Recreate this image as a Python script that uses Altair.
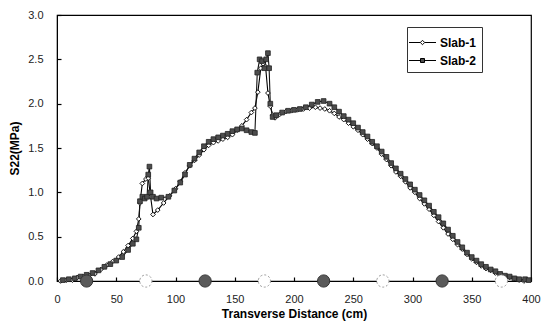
import altair as alt
import pandas as pd

# ---- data ----
slab1_x = [3, 8, 13, 17, 22, 27, 32, 37, 42, 47, 52, 56, 60, 64, 67, 69, 70, 72, 75, 77, 79, 81,
           85, 90, 95, 100, 104, 108, 112, 116, 120, 124, 128, 132, 136, 140, 144, 148, 152, 156,
           160, 164, 167, 169.5, 172, 174, 176, 178, 180, 182, 184, 188, 193, 198, 203, 208, 213,
           218, 222, 226, 230, 234, 238, 242, 246, 250, 254, 258, 262, 266, 270, 274, 278, 282,
           286, 290, 294, 298, 302, 306, 310, 314, 318, 322, 326, 330, 334, 338, 342, 346, 350,
           354, 358, 362, 366, 370, 374, 378, 382, 386, 390, 394]
slab1_y = [0.00, 0.01, 0.01, 0.04, 0.05, 0.06, 0.08, 0.13, 0.18, 0.22, 0.27, 0.33, 0.40, 0.48,
           0.56, 0.70, 0.88, 1.10, 1.15, 1.16, 0.95, 0.75, 0.80, 0.88, 0.96, 1.04, 1.12, 1.22,
           1.30, 1.36, 1.42, 1.48, 1.53, 1.56, 1.58, 1.60, 1.62, 1.65, 1.70, 1.75, 1.82, 1.90,
           1.95, 2.13, 2.40, 2.45, 2.42, 2.12, 1.97, 1.87, 1.84, 1.88, 1.91, 1.92, 1.93, 1.94,
           1.95, 1.96, 1.95, 1.94, 1.92, 1.89, 1.85, 1.82, 1.78, 1.74, 1.70, 1.65, 1.60, 1.55,
           1.50, 1.43, 1.37, 1.30, 1.23, 1.18, 1.12, 1.05, 1.00, 0.93, 0.87, 0.81, 0.74, 0.67,
           0.60, 0.53, 0.47, 0.41, 0.36, 0.30, 0.25, 0.21, 0.17, 0.14, 0.12, 0.09, 0.07, 0.05,
           0.04, 0.03, 0.01, 0.00]

slab2_x = [5, 10, 15, 20, 25, 30, 35, 40, 45, 50, 55, 60, 64, 67, 69, 70, 72, 74, 76, 77, 78,
           79, 81, 84, 88, 94, 99, 104, 108, 112, 116, 120, 124, 128, 132, 136, 140, 144, 148,
           152, 156, 160, 164, 167, 169, 171, 173, 175, 176.5, 178, 179, 180, 182, 185, 190, 195,
           200, 205, 210, 215, 220, 225, 230, 234, 238, 242, 246, 250, 254, 258, 262, 266, 270,
           274, 278, 282, 286, 290, 294, 298, 302, 306, 310, 314, 318, 322, 326, 330, 334, 338,
           342, 346, 350, 354, 358, 362, 366, 370, 374, 378, 382, 386, 390, 395, 398]
slab2_y = [0.01, 0.02, 0.03, 0.05, 0.07, 0.09, 0.12, 0.16, 0.19, 0.23, 0.27, 0.35, 0.42, 0.47,
           0.60, 0.90, 0.95, 0.93, 0.95, 1.20, 1.29, 1.00, 0.95, 0.93, 0.94, 0.95, 1.02, 1.11,
           1.20, 1.31, 1.38, 1.45, 1.52, 1.57, 1.60, 1.62, 1.64, 1.66, 1.69, 1.71, 1.72, 1.70,
           1.68, 1.67, 2.35, 2.50, 2.48, 2.40, 2.50, 2.57, 2.40, 2.00, 1.85, 1.87, 1.90, 1.92,
           1.93, 1.94, 1.96, 1.99, 2.02, 2.03, 2.00, 1.96, 1.91, 1.86, 1.82, 1.78, 1.73, 1.68,
           1.63, 1.57, 1.52, 1.46, 1.40, 1.33, 1.27, 1.21, 1.15, 1.09, 1.03, 0.97, 0.91, 0.85,
           0.78, 0.72, 0.65, 0.58, 0.51, 0.44, 0.38, 0.32, 0.27, 0.23, 0.19, 0.16, 0.13, 0.11,
           0.08, 0.06, 0.05, 0.03, 0.02, 0.02, 0.01]

marker_x = [25, 75, 125, 175, 225, 275, 325, 375]
marker_kind = ["dark", "light", "dark", "light", "dark", "light", "dark", "light"]

x_ticks = [0, 50, 100, 150, 200, 250, 300, 350, 400]
y_ticks = [0.0, 0.5, 1.0, 1.5, 2.0, 2.5, 3.0]

W, H = 474, 266
FONT = "Liberation Sans"

df1 = pd.DataFrame({"x": slab1_x, "y": slab1_y, "series": "Slab-1"})
df1["i"] = range(len(df1))
df2 = pd.DataFrame({"x": slab2_x, "y": slab2_y, "series": "Slab-2"})
df2["i"] = range(len(df2))
data = pd.concat([df1, df2], ignore_index=True)
mk = pd.DataFrame({"x": marker_x, "y": [0.0] * len(marker_x), "kind": marker_kind})

xs = alt.Scale(domain=[0, 400], nice=False, zero=False)
ys = alt.Scale(domain=[0, 3], nice=False)

main_x_axis = alt.Axis(values=x_ticks, ticks=False, labelPadding=12, title="Transverse Distance (cm)",
                       titleFont=FONT, titleFontSize=12, titleFontWeight="bold", titlePadding=4,
                       labelFont=FONT, labelFontSize=11, labelColor="#222", domainColor="black",
                       grid=False, labelFlush=False)
main_y_axis = alt.Axis(values=y_ticks, ticks=False, labelPadding=14, format=".1f", title="S22(MPa)",
                       titleFont=FONT, titleFontSize=12, titleFontWeight="bold", titlePadding=6,
                       labelFont=FONT, labelFontSize=11, labelColor="#222", domainColor="black",
                       grid=False)

base = alt.Chart(data)

line1 = base.transform_filter(alt.datum.series == "Slab-1").mark_line(
    color="black", strokeWidth=1.1).encode(
    x=alt.X("x:Q", scale=xs, axis=main_x_axis),
    y=alt.Y("y:Q", scale=ys, axis=main_y_axis),
    order="i:Q")
pts1 = base.transform_filter(alt.datum.series == "Slab-1").mark_point(
    shape="diamond", filled=True, fill="white", stroke="black", strokeWidth=0.9, size=22,
    opacity=1).encode(
    x=alt.X("x:Q", scale=xs, axis=None), y=alt.Y("y:Q", scale=ys, axis=None))
line2 = base.transform_filter(alt.datum.series == "Slab-2").mark_line(
    color="#111", strokeWidth=1.1).encode(
    x=alt.X("x:Q", scale=xs, axis=None), y=alt.Y("y:Q", scale=ys, axis=None), order="i:Q")
pts2 = base.transform_filter(alt.datum.series == "Slab-2").mark_point(
    shape="square", filled=True, fill="#4d4d4d", stroke="#222", strokeWidth=0.8, size=22,
    opacity=1).encode(
    x=alt.X("x:Q", scale=xs, axis=None), y=alt.Y("y:Q", scale=ys, axis=None))

# legend-only layer (invisible marks, visible legend)
leg_paths = [
    "M-1.35,0H-0.22M0.22,0H1.35M0,-0.22L0.22,0L0,0.22L-0.22,0Z",
    "M-1.35,0H-0.2M0.2,0H1.35M-0.2,-0.2H0.2V0.2H-0.2Z",
]
legend = alt.Legend(title=None, orient="none", legendX=350, legendY=12, direction="vertical",
                    labelFont=FONT, labelFontSize=12, labelFontWeight="bold", labelColor="black",
                    symbolSize=400, symbolStrokeWidth=1, symbolStrokeColor="black",
                    symbolOpacity=1, strokeColor="#333", padding=5, rowPadding=1, labelOffset=7,
                    fillColor="white")
dom = ["Slab-1", "Slab-2"]
leg = base.mark_point(opacity=0, filled=True).encode(
    x=alt.X("x:Q", scale=xs, axis=None), y=alt.Y("y:Q", scale=ys, axis=None),
    shape=alt.Shape("series:N", scale=alt.Scale(domain=dom, range=leg_paths), legend=legend),
    fill=alt.Fill("series:N", scale=alt.Scale(domain=dom, range=["white", "#4d4d4d"]), legend=legend),
    stroke=alt.Stroke("series:N", scale=alt.Scale(domain=dom, range=["black", "black"]), legend=legend))

# position markers along the x axis, also carrying the inward tick marks
mbase = alt.Chart(mk)
dark = mbase.transform_filter(alt.datum.kind == "dark").mark_point(
    shape="circle", filled=True, fill="#5a5a5a", stroke="#333", strokeWidth=1, size=150,
    opacity=1).encode(
    x=alt.X("x:Q", scale=xs, axis=alt.Axis(orient="top", offset=-H, values=x_ticks, labels=False,
                                           domain=False, ticks=True, tickSize=4, tickColor="black",
                                           tickWidth=1.2, title=None, grid=False)),
    y=alt.Y("y:Q", scale=ys, axis=alt.Axis(orient="right", offset=-W, values=y_ticks, labels=False,
                                           domain=False, ticks=True, tickSize=4, tickColor="black",
                                           tickWidth=1.2, title=None, grid=False)))
light = mbase.transform_filter(alt.datum.kind == "light").mark_point(
    shape="circle", filled=True, fill="white", stroke="#999", strokeWidth=1, strokeDash=[2, 2],
    size=150, opacity=1).encode(
    x=alt.X("x:Q", scale=xs, axis=None), y=alt.Y("y:Q", scale=ys, axis=None))

chart = alt.layer(line1, line2, pts1, pts2, light, dark, leg).resolve_axis(
    x="independent", y="independent").properties(
    width=W, height=H,
    padding={"left": 57, "top": 15, "right": 15, "bottom": 43},
    autosize=alt.AutoSizeParams(type="none"),
    background="white",
).configure_view(stroke="black", strokeWidth=1.2)

chart.save("out.html", embed_options={"renderer": "svg", "actions": False})
